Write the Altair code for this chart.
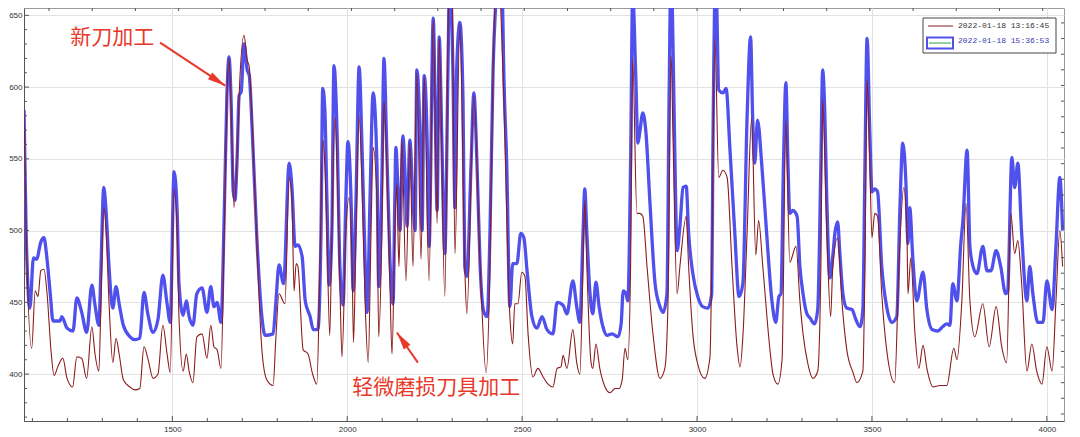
import altair as alt
import pandas as pd

# ---------------- data ----------------
blue_x = [1076, 1082, 1093, 1103, 1112, 1124, 1133, 1141, 1151, 1159, 1179, 1184, 1199, 1216, 1227, 1241,
          1255, 1270, 1279, 1290, 1296, 1304, 1311, 1319, 1330, 1339, 1348, 1360, 1379, 1393, 1407, 1419,
          1430, 1445, 1459, 1473, 1485, 1494, 1505, 1514, 1519, 1531, 1540, 1548, 1559, 1570, 1585, 1599,
          1610, 1619, 1628, 1639, 1648, 1656, 1662, 1668, 1674, 1679, 1685, 1691, 1697, 1705, 1714, 1720,
          1728, 1742, 1756, 1765, 1788, 1796, 1805, 1818, 1834, 1842, 1851, 1859, 1871, 1880, 1894, 1903,
          1916, 1925, 1930, 1936, 1942, 1948, 1956, 1962, 1971, 1979, 1988, 1996, 2002, 2011, 2017, 2025,
          2034, 2042, 2051, 2057, 2065, 2074, 2085, 2090, 2099, 2105, 2113, 2122, 2131, 2136, 2139, 2145,
          2151, 2159, 2168, 2171, 2179, 2188, 2194, 2199, 2208, 2214, 2220, 2228, 2234, 2246, 2251, 2257,
          2263, 2270, 2279, 2288, 2293, 2302, 2308, 2313, 2322, 2331, 2336, 2342, 2354, 2362, 2371, 2380,
          2391, 2400, 2408, 2417, 2426, 2431, 2443, 2448, 2456, 2465, 2473, 2485, 2496, 2505, 2514, 2528,
          2542, 2557, 2571, 2588, 2600, 2617, 2628, 2645, 2656, 2665, 2674, 2679, 2685, 2694, 2702, 2711,
          2720, 2731, 2743, 2757, 2774, 2783, 2789, 2797, 2802, 2810, 2816, 2825, 2831, 2836, 2845, 2854,
          2865, 2880, 2894, 2903, 2914, 2920, 2926, 2931, 2937, 2943, 2951, 2960, 2969, 2976, 2988, 3002,
          3016, 3031, 3042, 3045, 3054, 3057, 3062, 3074, 3083, 3094, 3108, 3120, 3131, 3143, 3153, 3159,
          3165, 3173, 3185, 3199, 3214, 3225, 3234, 3240, 3247, 3254, 3260, 3265, 3274, 3286, 3294, 3303,
          3314, 3323, 3336, 3345, 3354, 3359, 3365, 3371, 3380, 3388, 3394, 3402, 3408, 3417, 3428, 3443,
          3454, 3466, 3474, 3480, 3486, 3494, 3500, 3508, 3516, 3528, 3542, 3557, 3571, 3580, 3588, 3597,
          3603, 3608, 3617, 3628, 3646, 3657, 3672, 3688, 3702, 3714, 3723, 3731, 3743, 3754, 3760, 3772,
          3780, 3789, 3800, 3817, 3829, 3840, 3855, 3868, 3882, 3888, 3900, 3908, 3917, 3928, 3943, 3951,
          3960, 3974, 3989, 4000, 4015, 4026, 4037, 4045]
blue_y = [584, 500, 446, 481, 480, 492, 495, 482, 456, 437, 437, 440, 432, 430, 453, 443,
          429, 462, 448, 434, 474, 530, 512, 475, 446, 461, 449, 434, 426, 424, 425, 457,
          442, 429, 438, 469, 449, 436, 541, 512, 463, 441, 451, 440, 434, 456, 460, 443,
          461, 447, 450, 436, 507, 594, 621, 591, 528, 521, 549, 594, 597, 630, 612, 608,
          572, 493, 440, 427, 428, 450, 476, 463, 547, 530, 489, 490, 482, 451, 440, 431,
          431, 498, 599, 584, 521, 462, 498, 615, 568, 475, 448, 521, 562, 521, 458, 521,
          614, 561, 480, 443, 521, 596, 546, 461, 534, 620, 557, 480, 449, 521, 558, 530,
          500, 566, 521, 503, 563, 521, 500, 612, 568, 500, 608, 568, 489, 648, 591, 514,
          635, 568, 484, 613, 680, 613, 516, 613, 645, 591, 475, 468, 546, 596, 546, 475,
          443, 440, 498, 613, 665, 685, 665, 606, 546, 447, 477, 477, 498, 495, 472, 440,
          432, 440, 431, 428, 450, 448, 442, 465, 447, 436, 498, 529, 498, 456, 442, 464,
          447, 433, 427, 428, 426, 435, 458, 456, 451, 546, 665, 606, 561, 568, 582, 568,
          521, 463, 447, 443, 456, 591, 685, 633, 546, 486, 503, 530, 531, 498, 470, 454,
          447, 446, 456, 546, 685, 650, 598, 596, 599, 557, 498, 454, 463, 579, 635, 579,
          547, 577, 546, 498, 451, 436, 454, 456, 546, 603, 546, 512, 514, 510, 475, 456,
          442, 439, 435, 445, 546, 612, 584, 521, 467, 482, 498, 506, 485, 456, 446, 445,
          438, 433, 445, 546, 634, 568, 527, 529, 527, 475, 447, 436, 440, 516, 561, 534,
          491, 516, 480, 451, 471, 445, 431, 430, 433, 435, 434, 463, 451, 491, 507, 556,
          489, 475, 470, 489, 472, 472, 486, 475, 456, 458, 551, 530, 547, 498, 451, 475,
          456, 436, 436, 465, 445, 489, 537, 500]

red_x = [1076, 1082, 1098, 1108, 1116, 1124, 1133, 1142, 1153, 1162, 1174, 1187, 1199, 1215, 1227, 1241,
         1255, 1270, 1279, 1290, 1296, 1304, 1311, 1319, 1330, 1339, 1348, 1360, 1379, 1393, 1407, 1419,
         1430, 1445, 1459, 1473, 1485, 1494, 1505, 1514, 1519, 1531, 1540, 1548, 1559, 1570, 1585, 1599,
         1610, 1619, 1628, 1639, 1648, 1656, 1662, 1668, 1676, 1685, 1691, 1705, 1714, 1720, 1728, 1742,
         1756, 1770, 1788, 1796, 1805, 1822, 1834, 1842, 1848, 1854, 1859, 1874, 1888, 1900, 1913, 1922,
         1930, 1936, 1942, 1950, 1956, 1965, 1971, 1979, 1985, 1996, 2005, 2014, 2018, 2025, 2034, 2042,
         2051, 2060, 2068, 2074, 2085, 2090, 2099, 2105, 2113, 2122, 2128, 2136, 2142, 2145, 2148, 2156,
         2168, 2179, 2188, 2199, 2211, 2220, 2234, 2246, 2257, 2263, 2279, 2290, 2299, 2308, 2322, 2336,
         2342, 2362, 2380, 2397, 2408, 2417, 2431, 2445, 2465, 2473, 2479, 2488, 2499, 2508, 2517, 2531,
         2545, 2560, 2574, 2588, 2600, 2611, 2617, 2628, 2645, 2656, 2665, 2674, 2679, 2685, 2697, 2702,
         2711, 2722, 2737, 2751, 2766, 2777, 2786, 2794, 2802, 2810, 2816, 2828, 2836, 2845, 2857, 2874,
         2894, 2908, 2917, 2926, 2931, 2943, 2951, 2969, 2976, 2988, 3002, 3022, 3037, 3042, 3051, 3062,
         3074, 3086, 3100, 3114, 3123, 3131, 3143, 3156, 3168, 3176, 3188, 3208, 3217, 3231, 3243, 3254,
         3265, 3283, 3294, 3303, 3317, 3331, 3345, 3354, 3359, 3371, 3382, 3388, 3402, 3414, 3428, 3446,
         3457, 3474, 3480, 3486, 3494, 3500, 3508, 3516, 3528, 3542, 3565, 3577, 3591, 3600, 3603, 3611,
         3623, 3634, 3646, 3657, 3675, 3694, 3714, 3734, 3743, 3757, 3769, 3780, 3794, 3817, 3835, 3855,
         3871, 3885, 3897, 3908, 3917, 3928, 3943, 3957, 3971, 3986, 4000, 4015, 4026, 4037, 4045]
red_y = [584, 500, 418, 458, 454, 472, 473, 456, 417, 399, 406, 411, 397, 391, 412, 411,
         397, 433, 414, 402, 450, 516, 498, 450, 408, 425, 414, 396, 391, 389, 390, 419,
         411, 397, 400, 434, 414, 401, 529, 498, 440, 402, 414, 402, 394, 426, 428, 411,
         434, 419, 417, 404, 493, 591, 620, 587, 516, 549, 594, 636, 619, 614, 577, 489,
         417, 396, 392, 425, 456, 449, 537, 521, 458, 477, 475, 417, 414, 401, 393, 475,
         563, 546, 498, 427, 498, 579, 546, 463, 412, 498, 523, 475, 422, 498, 580, 534,
         451, 408, 498, 558, 521, 426, 498, 590, 546, 463, 414, 498, 533, 498, 475, 563,
         465, 561, 475, 610, 480, 607, 465, 647, 505, 634, 454, 660, 680, 484, 644, 475,
         442, 594, 475, 401, 475, 613, 685, 613, 440, 421, 449, 449, 471, 468, 428, 398,
         404, 398, 393, 391, 404, 405, 413, 404, 431, 408, 400, 475, 521, 475, 408, 404,
         421, 404, 391, 387, 390, 390, 396, 418, 410, 475, 620, 512, 512, 510, 475, 428,
         397, 404, 450, 622, 568, 456, 475, 510, 475, 428, 407, 397, 412, 475, 634, 537,
         542, 537, 475, 420, 405, 426, 498, 578, 483, 507, 475, 418, 400, 393, 410, 577,
         478, 489, 451, 428, 407, 397, 402, 475, 591, 498, 440, 475, 495, 451, 417, 401,
         394, 402, 475, 605, 546, 495, 512, 510, 456, 417, 394, 475, 530, 498, 456, 481,
         428, 404, 420, 404, 391, 392, 392, 418, 410, 451, 519, 451, 426, 449, 419, 447,
         419, 408, 512, 484, 493, 463, 402, 421, 402, 393, 419, 402, 451, 500, 475]

series_names = ["2022-01-18 13:16:45", "2022-01-18 15:36:53"]
note_texts = ["新刀加工", "轻微磨损刀具加工"]
note_x = [1208, 2014]
note_y = [634, 390]
arrow_tail_x = [1465, 2202]
arrow_tail_y = [631, 408]
arrow_tip_x = [1651, 2142]
arrow_tip_y = [601, 429]
arrow_angle = [123, 325]

x_major = [1500, 2000, 2500, 3000, 3500, 4000]
y_major = [400, 450, 500, 550, 600, 650]
x_minor = [v for v in range(1100, 4001, 100) if v not in x_major]
y_minor = [v for v in range(370, 651, 10) if v not in y_major]
top_ticks = [3000 + 123.5 * n for n in range(-15, 9)]
right_ticks = [622.9 - 10.9 * n for n in range(-2, 24)]

# ---------------- styling ----------------
W, H = 1040, 413
BLUE = "#5050EC"
RED = "#8B1C1C"
NOTE = "#E8392B"
TICK = "#555555"

xs = alt.Scale(domain=[1076, 4049], nice=False, zero=False)
ys = alt.Scale(domain=[367.3, 655.1], nice=False, zero=False)

x_axis = alt.Axis(values=x_major, format="d", grid=True, gridColor="#e2e2e2", gridWidth=1, tickSize=0,
                  labelPadding=4, labelFontSize=8, labelColor="#333333", labelFont="Liberation Sans",
                  domainColor="#555555", title=None)
y_axis = alt.Axis(values=y_major, format="d", grid=True, gridColor="#e2e2e2", gridWidth=1, tickSize=0,
                  labelPadding=2, labelFontSize=8, labelColor="#333333", labelFont="Liberation Sans",
                  domainColor="#555555", title=None)

X = alt.X("x:Q", scale=xs, axis=x_axis)
Y = alt.Y("y:Q", scale=ys, axis=y_axis)

blue_df = pd.DataFrame({"x": blue_x, "y": blue_y})
red_df = pd.DataFrame({"x": red_x, "y": red_y})

blue_line = alt.Chart(blue_df).mark_line(color=BLUE, strokeWidth=3.3, interpolate="monotone",
                                         clip=True, strokeJoin="round").encode(x=X, y=Y)
red_line = alt.Chart(red_df).mark_line(color=RED, strokeWidth=1.1, interpolate="monotone",
                                       clip=True).encode(x=X, y=Y)

# inward ticks
def xticks(vals, y0, y1):
    return alt.Chart(pd.DataFrame({"x": vals})).mark_rule(color=TICK, strokeWidth=1).encode(
        x=X, y=alt.value(y0), y2=alt.value(y1))

def yticks(vals, x0, x1):
    return alt.Chart(pd.DataFrame({"y": vals})).mark_rule(color=TICK, strokeWidth=1).encode(
        y=Y, x=alt.value(x0), x2=alt.value(x1))

ticks = [
    xticks(x_major, H, H - 5), xticks(x_minor, H, H - 3),
    yticks(y_major, 0, 5), yticks(y_minor, 0, 3),
    xticks(top_ticks, 0, 3), yticks(right_ticks, W, W - 3),
]

# annotations
notes_df = pd.DataFrame({"x": note_x, "y": note_y, "t": note_texts})
notes = alt.Chart(notes_df).mark_text(align="left", baseline="middle", color=NOTE, fontSize=21,
                                      font="Noto Sans CJK SC").encode(x=X, y=Y, text="t:N")
arrows_df = pd.DataFrame({"x": arrow_tail_x, "y": arrow_tail_y, "x2": arrow_tip_x, "y2": arrow_tip_y,
                          "a": arrow_angle})
shafts = alt.Chart(arrows_df).mark_rule(color=NOTE, strokeWidth=2).encode(x=X, y=Y, x2="x2:Q", y2="y2:Q")
heads = alt.Chart(arrows_df).mark_point(shape="M0,0L0.36,1.6L-0.36,1.6Z", filled=True, size=500,
                                        color=NOTE, opacity=1, strokeWidth=0).encode(
    x=alt.X("x2:Q", scale=xs, axis=x_axis), y=alt.Y("y2:Q", scale=ys, axis=y_axis),
    angle=alt.Angle("a:Q", scale=None))

# legend
leg_box = alt.Chart(pd.DataFrame({"k": [0]})).mark_rect(fill="white", stroke="#444444", strokeWidth=1).encode(
    x=alt.value(899), x2=alt.value(1032), y=alt.value(10), y2=alt.value(45))
leg_line1 = alt.Chart(pd.DataFrame({"k": [0]})).mark_rule(color=RED, strokeWidth=1).encode(
    x=alt.value(904), x2=alt.value(929), y=alt.value(18))
leg_rect2 = alt.Chart(pd.DataFrame({"k": [0]})).mark_rect(fill="white", stroke=BLUE, strokeWidth=2).encode(
    x=alt.value(903), x2=alt.value(929), y=alt.value(29.5), y2=alt.value(40.5))
leg_line2 = alt.Chart(pd.DataFrame({"k": [0]})).mark_rule(color="#2e9e4a", strokeWidth=1).encode(
    x=alt.value(905), x2=alt.value(927), y=alt.value(35))
leg_text1 = alt.Chart(pd.DataFrame({"t": [series_names[0]]})).mark_text(
    align="left", baseline="middle", font="Liberation Mono", fontSize=8, color="#333333").encode(
    x=alt.value(934), y=alt.value(17.5), text="t:N")
leg_text2 = alt.Chart(pd.DataFrame({"t": [series_names[1]]})).mark_text(
    align="left", baseline="middle", font="Liberation Mono", fontSize=8, color="#3a3ab8").encode(
    x=alt.value(934), y=alt.value(33), text="t:N")

chart = alt.layer(
    blue_line, red_line, *ticks, shafts, heads, notes,
    leg_box, leg_line1, leg_rect2, leg_line2, leg_text1, leg_text2,
).properties(
    width=W, height=H,
    autosize=alt.AutoSizeParams(type="none"),
    padding={"left": 16, "top": 0, "right": 8, "bottom": 14},
    background="white",
).configure_view(stroke="#9a9a9a", strokeWidth=1)

chart.save("out.html", embed_options={"renderer": "svg", "actions": False})
